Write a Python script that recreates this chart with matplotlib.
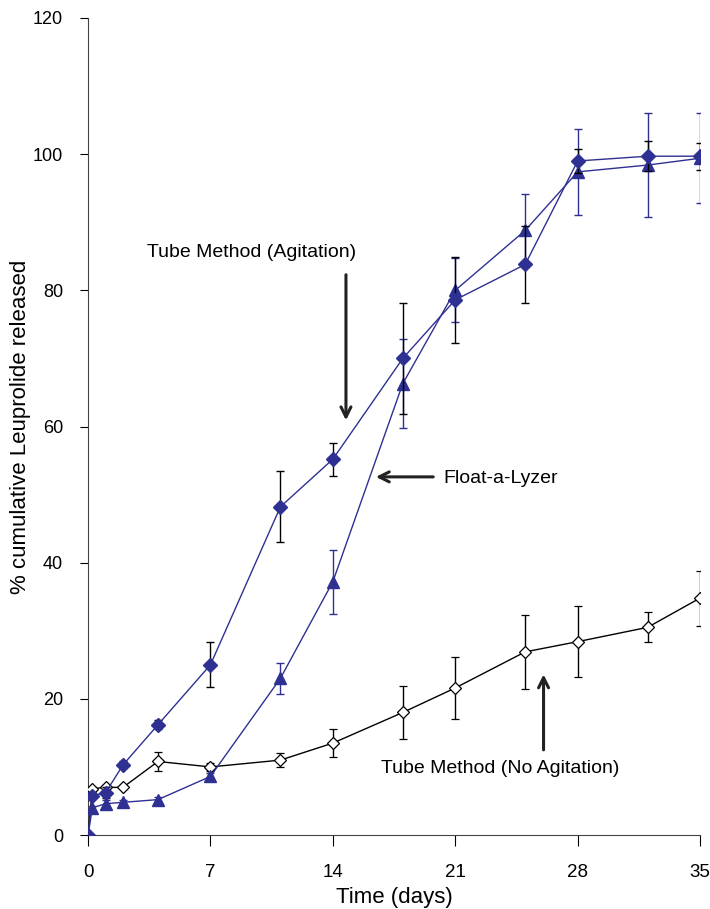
import matplotlib.pyplot as plt
import numpy as np

# sampling times (days)
days = [0, 0.25, 1, 2, 4, 7, 11, 14, 18, 21, 25, 28, 32, 35]

# Tube method with agitation (filled diamonds)
agit = [0, 5.8, 6.2, 10.3, 16.2, 25.0, 48.2, 55.2, 70.0, 78.6, 83.8, 99.0, 99.7, 99.7]
agit_err = [0, 0.5, 0.8, 0.5, 0.7, 3.3, 5.2, 2.4, 8.1, 6.3, 5.7, 1.8, 2.2, 2.0]

# Float-a-Lyzer (filled triangles)
fal = [0, 4.0, 4.6, 4.8, 5.2, 8.6, 23.0, 37.2, 66.3, 80.0, 88.8, 97.4, 98.4, 99.4]
fal_err = [0, 0.3, 0.5, 0.4, 0.4, 0.5, 2.3, 4.7, 6.5, 4.7, 5.4, 6.3, 7.7, 6.6]

# Tube method without agitation (open diamonds)
noag = [0, 6.8, 7.0, 7.0, 10.8, 10.0, 11.0, 13.5, 18.0, 21.6, 26.9, 28.4, 30.5, 34.8]
noag_err = [0, 0.3, 0.3, 0.3, 1.35, 0.6, 1.0, 2.0, 3.9, 4.6, 5.4, 5.2, 2.2, 4.05]

xticks = [0, 7, 14, 21, 28, 35]
yticks = [0, 20, 40, 60, 80, 100, 120]

blue = "#2e3192"
plt.rcParams['font.family'] = ['Liberation Sans', 'DejaVu Sans']

fig = plt.figure(figsize=(7.1, 9.09), dpi=100)
ax = fig.add_axes([0.124, 0.0814, 0.862, 0.8988])

ax.errorbar(days, noag, yerr=noag_err, color="black", ecolor="black", lw=1,
            elinewidth=1, capsize=3, marker="D", ms=6.5, mfc="white",
            mec="black", mew=0.9, zorder=3)
ax.errorbar(days, fal, yerr=fal_err, color=blue, ecolor=blue, lw=1,
            elinewidth=1, capsize=3, marker="^", ms=8.5, mfc=blue,
            mec=blue, zorder=4)
ax.errorbar(days, agit, yerr=agit_err, color=blue, ecolor="black", lw=1,
            elinewidth=1, capsize=3, marker="D", ms=7, mfc=blue,
            mec=blue, zorder=5)

ax.set_xlim(0, 35)
ax.set_ylim(0, 120)
ax.set_xticks(xticks)
ax.set_yticks(yticks)
ax.spines['top'].set_visible(False)
ax.spines['right'].set_visible(False)
ax.spines['left'].set_color("#444444")
ax.spines['bottom'].set_color("#444444")
ax.tick_params(axis='x', direction='out', length=8, pad=13, labelsize=13.5)
ax.tick_params(axis='y', direction='out', length=6, pad=12, labelsize=13)
for sp in ax.spines.values():
    sp.set_clip_on(False)

ax.set_xlabel("Time (days)", fontsize=16, labelpad=4)
ax.set_ylabel("% cumulative Leuprolide released", fontsize=16, labelpad=1)

arw = dict(arrowstyle="->", color="#222222", lw=2.2, mutation_scale=18)
ax.text(9.37, 85.5, "Tube Method (Agitation)", fontsize=14, ha="center", va="center")
ax.annotate("", xy=(14.75, 60.5), xytext=(14.75, 82.7), arrowprops=arw)
ax.text(20.3, 52.3, "Float-a-Lyzer", fontsize=14, ha="left", va="center")
ax.annotate("", xy=(16.3, 52.6), xytext=(19.9, 52.6), arrowprops=arw)
ax.text(23.55, 9.8, "Tube Method (No Agitation)", fontsize=14, ha="center", va="center")
ax.annotate("", xy=(26.05, 24.0), xytext=(26.05, 12.1), arrowprops=arw)

plt.savefig("out.png", dpi=100)
